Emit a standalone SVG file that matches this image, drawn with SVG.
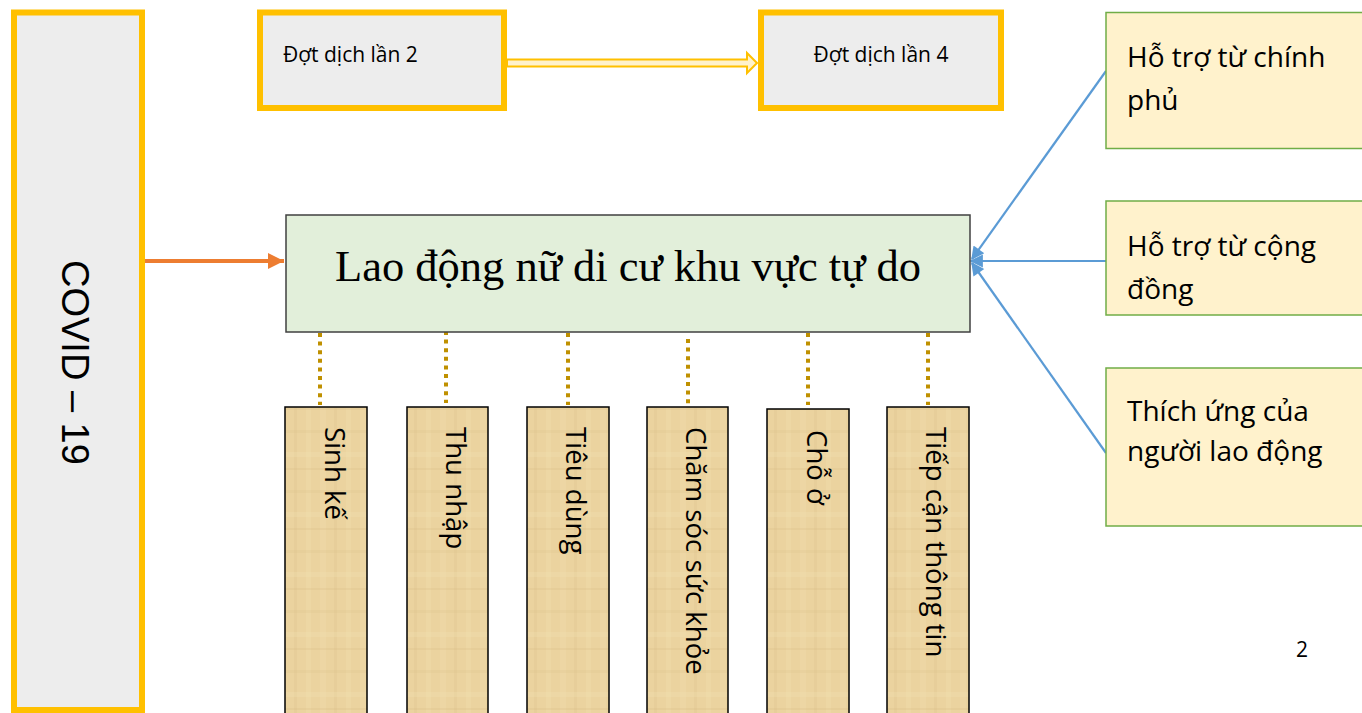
<svg xmlns="http://www.w3.org/2000/svg" width="1362" height="713" viewBox="0 0 1362 713">
<defs>
<style>
.yel{fill:#EDEDED;stroke:#FFC000;stroke-width:6}
.sans{font-family:"Open Sans","Noto Sans",sans-serif;fill:#000}
.sup{fill:#FFF2CC;stroke:#70AD47;stroke-width:1.5}
.pap{fill:url(#papyrus);stroke:#000;stroke-width:1.5}
.dot{stroke:#BF9000;stroke-width:4;stroke-dasharray:4 4.6;fill:none}
.blue{stroke:#5B9BD5;stroke-width:2.2;fill:none}
.vt{font-family:"Open Sans","Noto Sans",sans-serif;font-size:27.6px;fill:#000}
.rt{font-family:"Open Sans","Noto Sans",sans-serif;font-size:28px;fill:#000}
</style>
<pattern id="papyrus" patternUnits="userSpaceOnUse" width="40" height="60">
<rect width="40" height="60" fill="#EBD39F"/>
<rect x="0" y="0" width="6" height="60" fill="#F3DFB0" opacity="0.3"/>
<rect x="14" y="0" width="3" height="60" fill="#DCC08A" opacity="0.25"/>
<rect x="26" y="0" width="5" height="60" fill="#F5E2B5" opacity="0.25"/>
<rect x="0" y="10" width="40" height="3" fill="#DDC38C" opacity="0.25"/>
<rect x="0" y="32" width="40" height="5" fill="#F4E1B3" opacity="0.3"/>
<rect x="0" y="48" width="40" height="2" fill="#D8BC85" opacity="0.25"/>
</pattern>
<marker id="orangeHead" viewBox="0 0 10 10" refX="10" refY="5" markerWidth="4" markerHeight="4" orient="auto" markerUnits="strokeWidth">
<path d="M0,0 L10,5 L0,10 z" fill="#ED7D31"/>
</marker>
<marker id="blueHead" viewBox="0 0 10 10" refX="9" refY="5" markerWidth="7" markerHeight="6" orient="auto" markerUnits="strokeWidth">
<path d="M0,0 L10,5 L0,10 z" fill="#5B9BD5"/>
</marker>
</defs>
<rect width="1362" height="713" fill="#FFFFFF"/>

<g id="connectors">
<line x1="145" y1="261" x2="284" y2="261" stroke="#ED7D31" stroke-width="4" marker-end="url(#orangeHead)"/>
<path d="M507,59.5 L747,59.5 L747,53 L757,63 L747,73 L747,66.5 L507,66.5 z" fill="#FFF2CC" stroke="#FFC000" stroke-width="2"/>
<line class="blue" x1="1106" y1="71" x2="972" y2="259" marker-end="url(#blueHead)"/>
<line class="blue" x1="1106" y1="261" x2="971" y2="261" marker-end="url(#blueHead)"/>
<line class="blue" x1="1106" y1="453" x2="972" y2="263" marker-end="url(#blueHead)"/>
<line class="dot" x1="320" y1="333" x2="320" y2="405"/>
<line class="dot" x1="446" y1="331" x2="446" y2="403"/>
<line class="dot" x1="568" y1="333" x2="568" y2="405"/>
<line class="dot" x1="688" y1="339" x2="688" y2="409"/>
<line class="dot" x1="808" y1="333" x2="808" y2="405"/>
<line class="dot" x1="928" y1="333" x2="928" y2="405"/>
</g>

<g id="covid">
<rect class="yel" x="14" y="12.5" width="128" height="697.5"/>
<text font-size="38" fill="#000" style="font-family:'Liberation Sans',Arial,sans-serif" transform="translate(62,260) rotate(90)">COVID – 19</text>
</g>

<g id="dot2">
<rect class="yel" x="260" y="12.5" width="244" height="95.5"/>
<text class="sans" font-size="21" x="283" y="62">Đợt dịch lần 2</text>
</g>

<g id="dot4">
<rect class="yel" x="761" y="12.5" width="240" height="95.5"/>
<text class="sans" font-size="21" x="881" y="62" text-anchor="middle">Đợt dịch lần 4</text>
</g>

<g id="main">
<rect x="286" y="215" width="684" height="117" fill="#E2EFDA" stroke="#404040" stroke-width="1.5"/>
<text x="628" y="281" text-anchor="middle" style="font-family:'Liberation Serif','DejaVu Serif',serif" font-size="44.5" fill="#000">Lao động nữ di cư khu vực tự do</text>
</g>

<g id="sup1">
<rect class="sup" x="1106" y="12.5" width="270" height="136"/>
<text class="rt" x="1127" y="67">Hỗ trợ từ chính</text>
<text class="rt" x="1127" y="110">phủ</text>
</g>
<g id="sup2">
<rect class="sup" x="1106" y="201" width="270" height="114"/>
<text class="rt" x="1127" y="256">Hỗ trợ từ cộng</text>
<text class="rt" x="1127" y="299">đồng</text>
</g>
<g id="sup3">
<rect class="sup" x="1106" y="368" width="270" height="158"/>
<text class="rt" x="1127" y="421">Thích ứng của</text>
<text class="rt" x="1127" y="461">người lao động</text>
</g>

<g id="sinhke">
<rect class="pap" x="285" y="407" width="82" height="310"/>
<text class="vt" transform="translate(325,427) rotate(90)">Sinh kế</text>
</g>
<g id="thunhap">
<rect class="pap" x="407" y="407" width="81" height="310"/>
<text class="vt" transform="translate(446,427) rotate(90)">Thu nhập</text>
</g>
<g id="tieudung">
<rect class="pap" x="527" y="407" width="82" height="310"/>
<text class="vt" transform="translate(566,427) rotate(90)">Tiêu dùng</text>
</g>
<g id="chamsoc">
<rect class="pap" x="647" y="407" width="81" height="310"/>
<text class="vt" transform="translate(686,427) rotate(90)">Chăm sóc sức khỏe</text>
</g>
<g id="choo">
<rect class="pap" x="767" y="409" width="82" height="310"/>
<text class="vt" transform="translate(807,430) rotate(90)">Chỗ ở</text>
</g>
<g id="tiepcan">
<rect class="pap" x="887" y="407" width="82" height="310"/>
<text class="vt" transform="translate(926,427) rotate(90)">Tiếp cận thông tin</text>
</g>

<g id="pagenum">
<text class="sans" font-size="21" x="1296" y="657">2</text>
</g>
</svg>
